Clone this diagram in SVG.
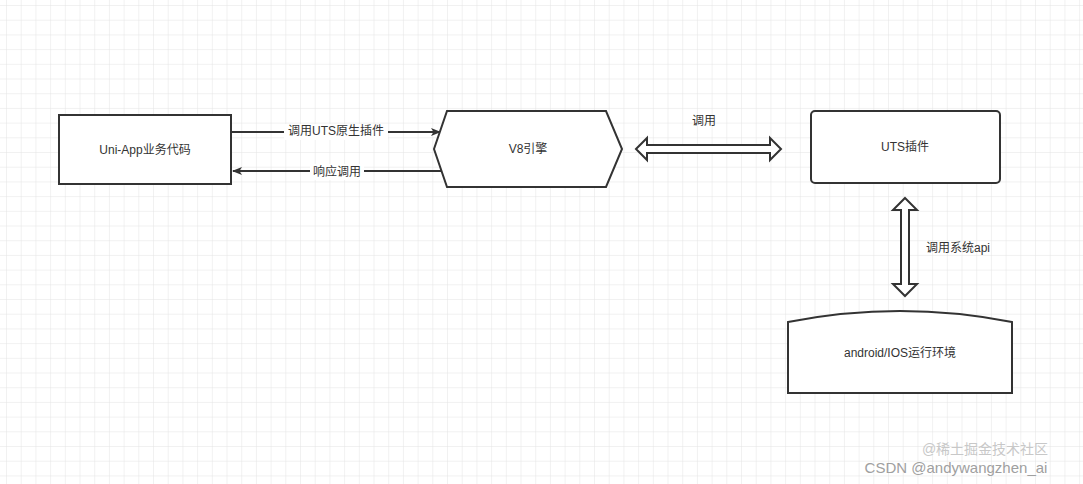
<svg xmlns="http://www.w3.org/2000/svg" width="1083" height="484" viewBox="0 0 1083 484">
<defs>
<pattern id="g" width="14.7" height="14.7" patternUnits="userSpaceOnUse" x="7" y="6"><path d="M14.7 0V14.7H0" fill="none" stroke="#e3e3e3" stroke-width="1"/></pattern>
<marker id="ah" markerWidth="10" markerHeight="8" refX="9" refY="4" orient="auto" markerUnits="userSpaceOnUse"><path d="M0 0L10 4L0 8L2.5 4Z" fill="#333"/></marker>
<style>
.n{fill:#fff;stroke:#333;stroke-width:2}
.t{font-family:"Liberation Sans","Noto Sans CJK SC",sans-serif;font-size:12px;fill:#333;text-anchor:middle;dominant-baseline:central}
.l{fill:none;stroke:#333;stroke-width:2}
.d{fill:#fff;stroke:#333;stroke-width:2;stroke-linejoin:miter}
.lb{fill:#fff}
</style>
</defs>
<rect width="1083" height="484" fill="#fff"/>
<rect width="1083" height="484" fill="url(#g)"/>
<g id="connectors">
<line class="l" x1="231" y1="132" x2="440" y2="132" marker-end="url(#ah)"/>
<rect class="lb" x="284" y="124" width="104" height="16"/>
<text class="t" x="336" y="131">调用UTS原生插件</text>
<line class="l" x1="443" y1="171" x2="233" y2="171" marker-end="url(#ah)"/>
<rect class="lb" x="310" y="164" width="54" height="16"/>
<text class="t" x="337" y="172">响应调用</text>
<path class="d" d="M636 149L647 138V145H770V138L781 149L770 160V153H647V160Z"/>
<text class="t" x="704" y="121">调用</text>
<path class="d" d="M905 198L917 210H909V284H917L905 296L893 284H901V210H893Z"/>
<text class="t" x="926" y="248" style="text-anchor:start">调用系统api</text>
</g>
<g id="uniapp"><rect class="n" x="59" y="115" width="172" height="69"/><text class="t" x="145" y="150">Uni-App业务代码</text></g>
<g id="v8"><path class="n" d="M447 111H606L622 149L606 187H447L434 149Z"/><text class="t" x="528" y="149">V8引擎</text></g>
<g id="uts"><rect class="n" x="811" y="111" width="189" height="72" rx="4"/><text class="t" x="905" y="147">UTS插件</text></g>
<g id="env"><path class="n" d="M788 322Q900 300 1012 322V393H788Z"/><text class="t" x="900" y="353">android/IOS运行环境</text></g>
<g id="watermark"><text class="t" x="985" y="449" style="font-size:14px;fill:#c8c8c8">@稀土掘金技术社区</text><text class="t" x="956" y="467" style="font-size:15px;fill:#a0a0a0">CSDN @andywangzhen_ai</text></g>
</svg>
